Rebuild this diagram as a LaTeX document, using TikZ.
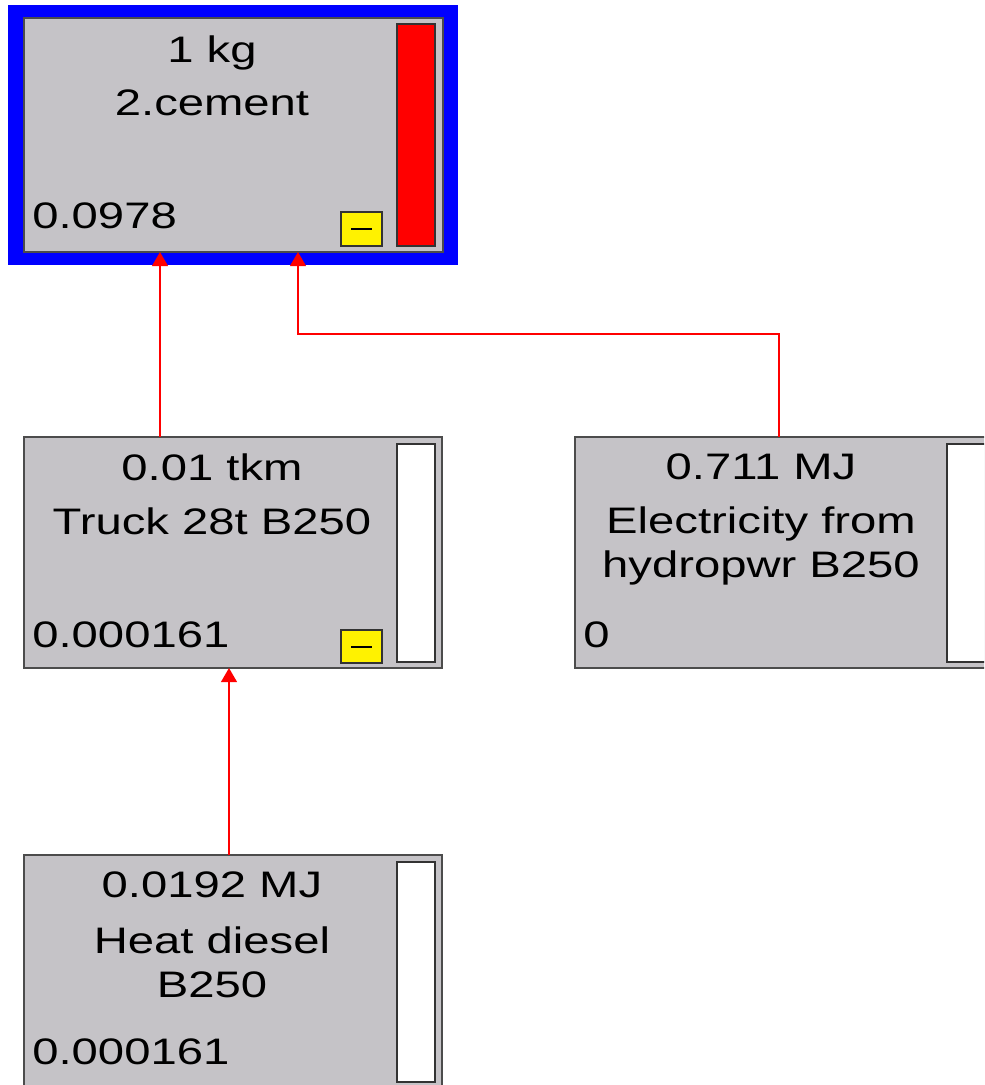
\documentclass[tikz,border=0pt]{standalone}
\usepackage{fontspec}
\setmainfont{Liberation Sans}[FakeStretch=1.28]
\usepackage{xcolor}
\usepackage{tikz}
\usetikzlibrary{fit, calc, arrows.meta}
\definecolor{boxgray}{RGB}{197,195,199}
\definecolor{selblue}{RGB}{0,0,255}

\begin{document}
\begin{tikzpicture}[x=0.02cm, y=-0.02cm,
  procbox/.style={draw=black!70, line width=0.9pt, fill=boxgray, inner sep=0pt, outer sep=0pt},
  bar/.style={draw=black!80, line width=0.9pt},
  minusbox/.style={draw=black!80, line width=0.9pt, fill=yellow},
  txt/.style={inner sep=0pt, font=\fontsize{21}{24.5}\selectfont, align=center},
  flow/.style={red, line width=1pt, -{Triangle[width=9pt, length=8pt]}}]
\useasboundingbox (0,0) rectangle (984,1085);
\clip (0,0) rectangle (984,1085);
\node[fill=selblue, inner sep=0pt, fit={(8,5) (458,265)}] (cementsel) {};
\node[procbox, fit={(24,18) (443,252)}] (cement) {};
\node[procbox, fit={(24,437) (442,668)}] (truck) {};
\node[procbox, fit={(575,437) (994,668)}] (elec) {};
\node[procbox, fit={(24,855) (442,1110)}] (diesel) {};
\draw[bar, fill=red] (397,24) rectangle (435,246);
\draw[bar, fill=white] (397,444) rectangle (435,662);
\draw[bar, fill=white] (947,444) rectangle (988,662);
\draw[bar, fill=white] (397,862) rectangle (435,1082);
\draw[minusbox] (341,212) rectangle (382,246);
\draw[line width=1.2pt] (351,229) -- (372,229);
\draw[minusbox] (341,630) rectangle (382,663);
\draw[line width=1.2pt] (351,647) -- (372,647);
\node[txt, anchor=base] (cementqty) at (212,62) {1 kg};
\node[txt, anchor=base] (cementname) at (212,115) {2.cement};
\node[txt, anchor=base west] (cementval) at (32,228) {0.0978};
\node[txt, anchor=base] (truckqty) at (212,480) {0.01 tkm};
\node[txt, anchor=base] (truckname) at (212,534) {Truck 28t B250};
\node[txt, anchor=base west] (truckval) at (32,647) {0.000161};
\node[txt, anchor=base] (elecqty) at (761,479) {0.711 MJ};
\node[txt, anchor=base] (elecname) at (761,577) {Electricity from\\hydropwr B250};
\node[txt, anchor=base west] (elecval) at (583,647) {0};
\node[txt, anchor=base] (dieselqty) at (212,897) {0.0192 MJ};
\node[txt, anchor=base] (dieselname) at (212,997) {Heat diesel\\B250};
\node[txt, anchor=base west] (dieselval) at (32,1064) {0.000161};
\draw[flow] ($(truck.north west)+(136,0)$) -- ($(cement.south west)+(136,0)$);
\draw[flow] ($(elec.north west)+(204,0)$) |- ($(cement.south west)+(274,82)$) -- ($(cement.south west)+(274,0)$);
\draw[flow] ($(diesel.north west)+(205,0)$) -- ($(truck.south west)+(205,0)$);
\end{tikzpicture}
\end{document}
